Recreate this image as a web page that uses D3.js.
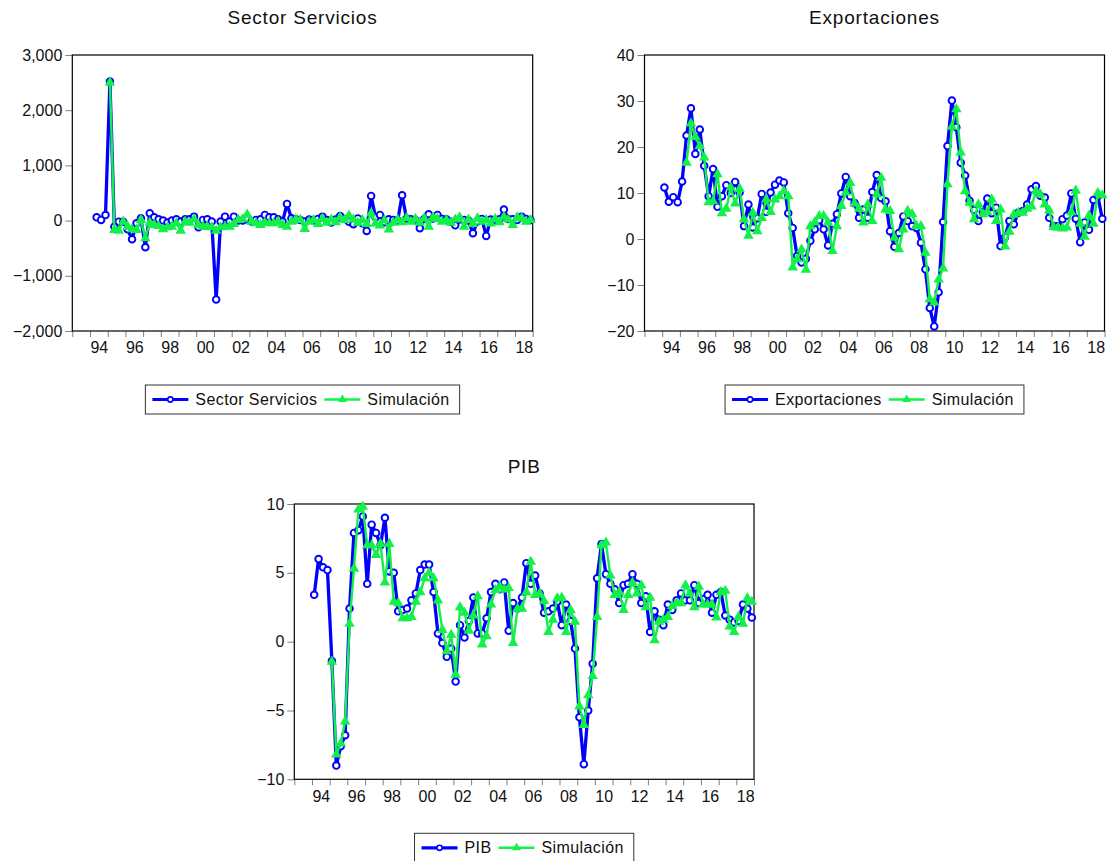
<!DOCTYPE html>
<html>
<head>
<meta charset="utf-8">
<script src="https://cdn.jsdelivr.net/npm/d3@7"></script>
<style>
  body { margin: 0; background: #fff; }
  svg text { font-family: Arial, "Liberation Sans", sans-serif; fill: #111; }
</style>
</head>
<body>
<svg id="chart" width="1107" height="861"></svg>
<script>
// Quarterly workfile 1993Q1–2018Q4; every series is listed from its first observation.
const rangeStart = "1993Q1";
const rangeEnd = "2018Q4";
const yearLabels = ["94","96","98","00","02","04","06","08","10","12","14","16","18"];

// Sector Servicios
const serviciosStart = "1994Q2";
const servicios = [60, 12, 100, 2520, -110, -20, -20, -157, -338, -48, 42, -483, 133, 60, 24, 0,
  -36, 0, 24, -18, 24, 24, 72, -121, 12, 24, -18, -1429, -18, 72, -18, 72, 0, 0, 24, -18,
  12, 24, 103, 60, 60, 24, -18, 302, 42, 24, 12,
  -18, 20, 0, 30, 72, 10, -36, 20, 85, 30, -20, -66, 40, -48, -187, 447, 60, 103, -30, 24,
  12, 0, 459, 40, 24, 10, -139, 30, 115, 40, 103, 30, 24, -20, -85, 20, 12, 0, -229, -18,
  30, -278, 20, 10, 24, 199, 30, 24, 10, 72, 30, 12];
const serviciosSimStart = "1995Q1";
const serviciosSim = [2500, -169, -181, -18, -109, -157, -169, 12, -320, -36, -78, -97, -157, -121,
  -109, -48, -181, -18, -36, 24, -78, -109, -109, -121, -181, -121, -109, -109, -60, 12, 24,
  110, -18, -48, -78, -36, -48, -48, -18, -78, -109, -18, 24, 12,
  -150, -20, 10, -60, 30, -40, 20, -30, 60, 10, 90, 20, -40, 10, -60, 130, -50, -90, 10, -160,
  -40, 20, -30, 50, -20, 30, -40, 40, -110, 60, 30, -20, 10, -40, 20, 60, -110, 20, -60, 40,
  -20, 10, -50, 30, -30, 70, 20, -80, 60, 40, -20, 10];

// Exportaciones
const exportStart = "1994Q1";
const exportaciones = [11.2, 8.1, 9.1, 8.0, 12.5, 22.5, 28.4, 18.5, 23.8, 15.9, 9.3, 15.2, 7.0, 9.3,
  11.7, 10.0, 12.4, 10.1, 2.8, 7.5, 2.5, 4.5, 9.8, 5.9, 10.1, 11.8, 12.7, 12.3, 5.6, 2.4,
  -3.7, -5.1, -4.3, -0.4, 2.1, 4.1, 2.1, -1.4, 3.3, 5.4, 9.9, 13.5, 9.3, 7.8, 4.6, 6.4, 4.6,
  10.2, 13.9, 8.9, 8.2, 1.7, -1.7, 1.3, 4.9, 3.9, 2.8, 2.4, -0.8, -6.6, -15.0, -19.0, -11.6,
  3.7, 20.2, 30.1, 24.3, 16.6, 13.8, 8.3, 6.3, 3.9, 5.8, 8.8, 5.6, 6.8, -1.5, 0.4, 3.9, 3.2,
  5.7, 6.1, 7.5, 10.8, 11.5, 9.4, 9.0, 4.6, 2.8, 2.8, 4.3, 5.1, 9.9, 4.4, -0.7, 3.6, 2.0,
  8.5, 9.3, 4.4];
const exportSimStart = "1995Q2";
const exportSim = [16.6, 25.1, 22.2, 20.2, 17.7, 8.0, 8.2, 14.1, 5.6, 6.6, 11.2, 7.7, 10.9, 4.3,
  0.7, 5.7, 1.7, 4.6, 8.6, 5.9, 8.6, 9.3, 10.4, 9.3, -6.2, -4.4, -2.3, -6.7, 2.8, 3.6, 5.0,
  5.0, 3.6, -2.6, 2.8, 7.2, 10.1, 12.2, 7.7, 6.6, 3.6, 7.5, 3.9, 9.7, 13.3, 6.4, 6.1, 0.3,
  -2.2, 2.1, 6.1, 5.4, 2.8, 2.8, -3.0, -13.1, -13.8, -8.8, -6.4, 11.9, 24.4, 28.2, 18.8, 10.4,
  7.9, 4.3, 7.5, 5.4, 5.8, 8.6, 3.9, 6.4, -1.6, 1.6, 5.3, 5.7, 5.7, 6.6, 7.1, 10.4, 9.7, 7.5,
  6.2, 2.6, 2.5, 2.3, 2.5, 5.8, 10.5, 3.3, 0.5, 5.1, 3.3, 10.0, 9.5];

// PIB
const pibStart = "1994Q1";
const pib = [3.4, 6.0, 5.4, 5.2, -1.4, -9.0, -7.6, -6.8, 2.4, 7.9, 8.1, 9.1, 4.2, 8.5, 7.9, 7.0,
  9.0, 5.1, 5.0, 2.2, 2.3, 2.4, 3.0, 3.5, 5.2, 5.6, 5.6, 3.6, 0.6, -0.1, -1.1, -0.5, -2.9,
  1.2, 0.3, 1.5, 3.2, 0.6, 0.6, 1.7, 3.6, 4.2, 3.8, 4.3, 0.8, 2.8, 2.4, 3.2, 5.7, 4.2, 4.8,
  3.5, 2.1, 2.2, 2.4, 2.9, 1.2, 2.7, 1.5, -0.5, -5.5, -8.9, -5.0, -1.6, 4.6, 7.1, 4.9, 4.2,
  3.8, 2.8, 4.1, 4.2, 4.9, 4.2, 2.8, 3.3, 0.7, 2.2, 1.6, 1.2, 2.7, 2.3, 3.0, 3.5, 3.0, 3.0,
  4.1, 2.8, 3.1, 3.4, 2.1, 3.4, 3.6, 1.9, 1.6, 1.4, 1.5, 2.7, 2.4, 1.75];
const pibSimStart = "1995Q1";
const pibSim = [-1.45, -8.2, -7.4, -5.8, 1.3, 5.3, 9.6, 9.8, 7.0, 7.0, 6.3, 7.1, 4.3, 7.1, 2.9,
  2.8, 1.7, 1.7, 1.8, 2.9, 3.6, 4.6, 5.0, 4.6, 3.0, 0.85, -0.7, 0.5, -2.4, 2.5, 2.1, 0.8, 1.9,
  3.3, -0.2, 0.4, 2.7, 3.75, 4.0, 3.8, 3.9, -0.1, 2.4, 2.4, 3.6, 5.8, 3.4, 3.5, 2.95, 0.7,
  1.6, 3.15, 3.2, 0.7, 2.3, 1.45, -4.7, -6.05, -3.9, -2.5, 1.8, 7.0, 7.2, 4.8, 3.4, 3.6, 2.3,
  3.4, 4.3, 3.5, 4.1, 2.5, 3.2, 0.1, 1.45, 1.6, 1.8, 2.6, 2.8, 2.8, 4.1, 3.5, 2.5, 4.0, 2.7,
  2.7, 2.7, 1.75, 3.6, 3.7, 1.1, 0.7, 1.8, 1.3, 3.15, 2.9];

const serviciosTicks = [-2000, -1000, 0, 1000, 2000, 3000];
const exportTicks = [-20, -10, 0, 10, 20, 30, 40];
const pibTicks = [-10, -5, 0, 5, 10];

const simName = "Simulación";

// ---- helpers ----
function quarterIndex(label) {
  const [yy, qq] = label.split("Q").map(Number);
  const [y0, q0] = rangeStart.split("Q").map(Number);
  return (yy - y0) * 4 + (qq - q0);
}
function toPoints(values, start) {
  const s = quarterIndex(start);
  return values.map((v, i) => ({ q: s + i, v }));
}
const nQuarters = quarterIndex(rangeEnd) + 1;
const firstYear = +rangeStart.slice(0, 4);
const nYears = nQuarters / 4;

const BLUE = "#0000ff";
const GREEN = "#12f04a";
const svg = d3.select("#chart");

const panels = [
  { title: "Sector Servicios", x0: 72.3, x1: 532.7, y0: 55, y1: 331, domain: [-2000, 3000],
    ticks: serviciosTicks, fmt: d3.format(","), name: "Sector Servicios",
    actual: toPoints(servicios, serviciosStart), sim: toPoints(serviciosSim, serviciosSimStart) },
  { title: "Exportaciones", x0: 644.5, x1: 1104.5, y0: 55, y1: 331, domain: [-20, 40],
    ticks: exportTicks, fmt: d3.format("d"), name: "Exportaciones",
    actual: toPoints(exportaciones, exportStart), sim: toPoints(exportSim, exportSimStart) },
  { title: "PIB", x0: 294.3, x1: 754, y0: 504, y1: 779.3, domain: [-10, 10],
    ticks: pibTicks, fmt: d3.format("d"), name: "PIB",
    actual: toPoints(pib, pibStart), sim: toPoints(pibSim, pibSimStart) }
];

const triangle = d3.symbol().type(d3.symbolTriangle).size(48);

function styleAxis(sel, size) {
  sel.select(".domain").remove();
  sel.selectAll(".tick line").attr("stroke", "#808080");
  sel.selectAll(".tick text").attr("font-size", size)
    .attr("font-family", "Arial, 'Liberation Sans', sans-serif").attr("fill", "#111");
}

function drawPanel(p) {
  const g = svg.append("g");
  const x = d3.scaleLinear().domain([0, nQuarters]).range([p.x0, p.x1]);
  const y = d3.scaleLinear().domain(p.domain).range([p.y1, p.y0]);

  // title
  g.append("text").attr("x", (p.x0 + p.x1) / 2).attr("y", p.y0 - 31)
    .attr("text-anchor", "middle").attr("font-size", 19)
    .attr("letter-spacing", "0.8px").text(p.title);

  // y axis
  g.append("g").attr("transform", `translate(${p.x0},0)`)
    .call(d3.axisLeft(y).tickValues(p.ticks).tickSize(7).tickPadding(3).tickFormat(p.fmt))
    .call(s => styleAxis(s, 16));

  // x axis: year ticks at year boundaries, labels in the middle of even years
  const yearTicks = d3.range(0, nYears + 1).map(k => k * 4);
  g.append("g").attr("transform", `translate(0,${p.y1})`)
    .call(d3.axisBottom(x).tickValues(yearTicks).tickSize(6).tickFormat(""))
    .call(s => styleAxis(s, 16));
  const labelPos = yearLabels.map(lbl => {
    const yr = lbl >= "50" ? 1900 + +lbl : 2000 + +lbl;
    return (yr - firstYear) * 4 + 2;
  });
  g.append("g").attr("transform", `translate(0,${p.y1})`)
    .call(d3.axisBottom(x).tickValues(labelPos).tickSize(0).tickPadding(11)
      .tickFormat((d, i) => yearLabels[i]))
    .call(s => styleAxis(s, 16));

  // frame
  g.append("rect").attr("x", p.x0).attr("y", p.y0)
    .attr("width", p.x1 - p.x0).attr("height", p.y1 - p.y0)
    .attr("fill", "none").attr("stroke", "#000").attr("stroke-width", 1.2);

  const line = d3.line().x(d => x(d.q + 0.5)).y(d => y(d.v));

  // actual series: thick blue line, hollow circles
  g.append("path").datum(p.actual).attr("d", line)
    .attr("fill", "none").attr("stroke", BLUE).attr("stroke-width", 3.3)
    .attr("stroke-linejoin", "round");
  g.append("g").selectAll("circle").data(p.actual).join("circle")
    .attr("cx", d => x(d.q + 0.5)).attr("cy", d => y(d.v)).attr("r", 3.3)
    .attr("fill", "#fff").attr("stroke", BLUE).attr("stroke-width", 1.9);

  // simulation: green line, filled triangles
  g.append("path").datum(p.sim).attr("d", line)
    .attr("fill", "none").attr("stroke", GREEN).attr("stroke-width", 2.4)
    .attr("stroke-linejoin", "round");
  g.append("g").selectAll("path").data(p.sim).join("path")
    .attr("d", triangle)
    .attr("transform", d => `translate(${x(d.q + 0.5)},${y(d.v)})`)
    .attr("fill", GREEN);

  // legend, centred under the plot
  const lg = g.append("g");
  const items = [
    { label: p.name, color: BLUE, kind: "circle", width: 3.2 },
    { label: simName, color: GREEN, kind: "triangle", width: 2.4 }
  ];
  let cx = 7;
  items.forEach((it) => {
    const ig = lg.append("g").attr("transform", `translate(${cx},0)`);
    ig.append("line").attr("x1", 0).attr("x2", 36).attr("y1", 0).attr("y2", 0)
      .attr("stroke", it.color).attr("stroke-width", it.width);
    if (it.kind === "circle") {
      ig.append("circle").attr("cx", 18).attr("cy", 0).attr("r", 2.6)
        .attr("fill", "#fff").attr("stroke", it.color).attr("stroke-width", 1.6);
    } else {
      ig.append("path").attr("d", d3.symbol().type(d3.symbolTriangle).size(34))
        .attr("transform", "translate(18,0)").attr("fill", it.color);
    }
    const t = ig.append("text").attr("x", 43).attr("y", 0).attr("dy", "0.35em")
      .attr("font-size", 16).attr("letter-spacing", "0.4px").text(it.label);
    cx += 43 + t.node().getComputedTextLength() + 7;
  });
  const boxW = cx + 3;
  const boxH = 29;
  lg.insert("rect", ":first-child").attr("x", 0).attr("y", -boxH / 2)
    .attr("width", boxW).attr("height", boxH)
    .attr("fill", "#fff").attr("stroke", "#333").attr("stroke-width", 1);
  lg.attr("transform", `translate(${(p.x0 + p.x1) / 2 - boxW / 2},${p.y1 + 54 + boxH / 2})`);
}

panels.forEach(drawPanel);
</script>
</body>
</html>
